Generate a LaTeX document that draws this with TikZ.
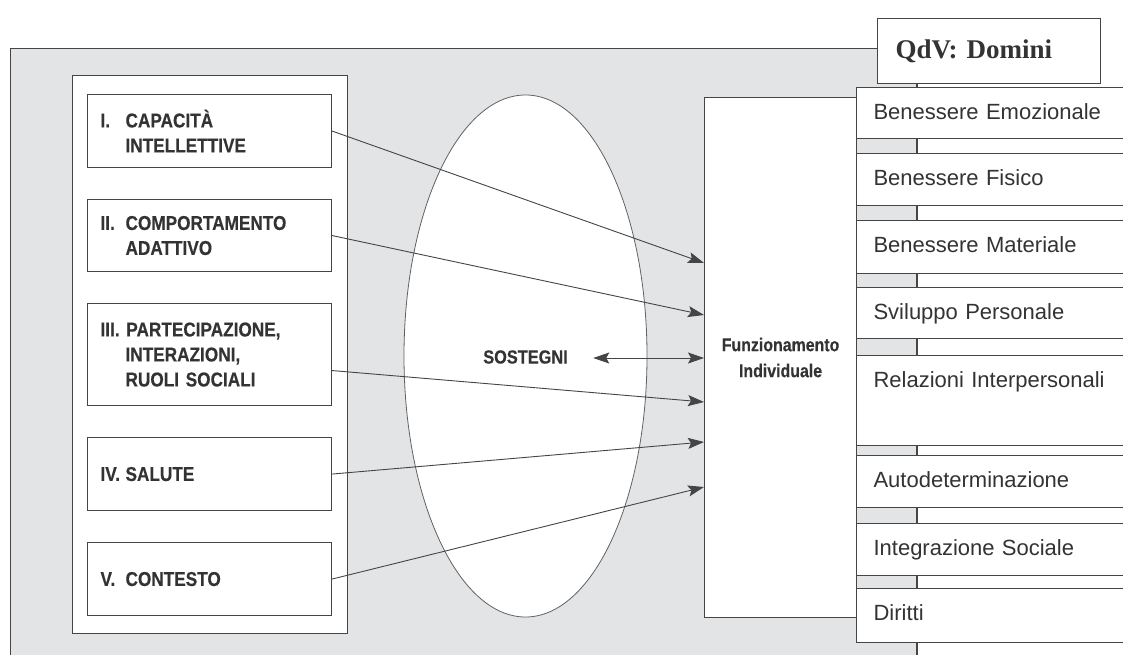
\documentclass[tikz,border=0pt]{standalone}
\usepackage{fontspec}
\setmainfont{Liberation Sans}
\newfontfamily\condfont[FakeStretch=0.86,FakeBold=0.35]{Liberation Sans}
\newfontfamily\qdvfont{Liberation Serif}
\usetikzlibrary{arrows.meta,calc,shapes.geometric}
\definecolor{panelgray}{HTML}{E2E4E6}
\definecolor{ink}{HTML}{333333}
\definecolor{edge}{HTML}{454545}
\begin{document}
\begin{tikzpicture}[x=1pt,y=-1pt,
  lbox/.style={draw=edge, line width=1.1pt, fill=white, anchor=north west,
    inner xsep=13pt, text width=218pt, align=left, text=ink,
    font=\condfont\bfseries\fontsize{20}{25}\selectfont},
  dbox/.style={draw=edge, line width=1.1pt, fill=white, anchor=north west,
    inner xsep=17pt, inner ysep=0pt, text width=270pt, align=left,
    text height=32pt, text=ink, font=\fontsize{22}{26}\selectfont},
  arr/.style={draw=edge, line width=0.9pt, -{Stealth[length=16pt,width=11pt,inset=3pt]}},
  dbl/.style={draw=edge, line width=0.9pt, {Stealth[length=16pt,width=11pt,inset=3pt]}-{Stealth[length=16pt,width=11pt,inset=3pt]}}
]
\useasboundingbox (0,0) rectangle (1123,655);
\clip (0,0) rectangle (1123,655);
\fill[white] (0,0) rectangle (1123,655);
% grey panel
\draw[edge, line width=1.2pt, fill=panelgray] (10.5,48.5) rectangle (917,690);
% left container
\node[draw=edge, line width=1.1pt, fill=white, anchor=north west,
      minimum width=275pt, minimum height=558pt] (cont) at (72,75) {};
% ellipse
\node[ellipse, draw=edge!85, line width=0.8pt, fill=white,
      minimum width=243pt, minimum height=522pt] (sost) at (525.5,356) {};
\node[text=ink, font=\condfont\bfseries\fontsize{19}{25}\selectfont] (sosttext) at (525.5,357) {SOSTEGNI};
% left boxes
\node[lbox, minimum height=73pt] (b1) at (87,94) {\makebox[25pt][l]{I.}CAPACITÀ\\\hspace*{25pt}INTELLETTIVE};
\node[lbox, minimum height=72pt] (b2) at (87,199) {\makebox[25pt][l]{II.}COMPORTAMENTO\\\hspace*{25pt}ADATTIVO};
\node[lbox, minimum height=102pt] (b3) at (87,303) {III. PARTECIPAZIONE,\\\hspace*{25pt}INTERAZIONI,\\\hspace*{25pt}RUOLI SOCIALI};
\node[lbox, minimum height=73pt] (b4) at (87,437) {\makebox[25pt][l]{IV.}SALUTE};
\node[lbox, minimum height=73pt] (b5) at (87,542) {\makebox[25pt][l]{V.}CONTESTO};
% central box
\node[draw=edge, line width=1.1pt, fill=white, anchor=north west,
      minimum width=152pt, minimum height=520pt, align=center, text=ink,
      font=\condfont\bfseries\fontsize{18.5}{26}\selectfont] (funz) at (704,97) {Funzionamento\\Individuale};
% arrows
\draw[arr] (b1.east) -- ($(funz.north west)+(0,166)$);
\draw[arr] (b2.east) -- ($(funz.north west)+(0,218)$);
\draw[arr] ($(b3.east)+(0,16)$) -- ($(funz.north west)+(0,305)$);
\draw[arr] (b4.east) -- ($(funz.north west)+(0,345)$);
\draw[arr] (b5.east) -- ($(funz.north west)+(0,390)$);
\draw[dbl] ($(sosttext.east)+(22,1)$) -- ($(funz.north west)+(0,261)$);
% domains
\node[dbox, text depth=19pt] (d1) at (856,87) {Benessere Emozionale};
\node[dbox, text depth=20pt] (d2) at (856,153) {Benessere Fisico};
\node[dbox, text depth=21pt] (d3) at (856,220) {Benessere Materiale};
\node[dbox, text depth=19pt] (d4) at (856,287) {Sviluppo Personale};
\node[dbox, text depth=58pt] (d5) at (856,355) {Relazioni Interpersonali};
\node[dbox, text depth=20pt] (d6) at (856,455) {Autodeterminazione};
\node[dbox, text depth=20pt] (d7) at (856,523) {Integrazione Sociale};
\node[dbox, text depth=22pt] (d8) at (856,588) {Diritti};
% title box
\node[draw=edge, line width=1.1pt, fill=white, anchor=north west,
      minimum height=65pt, inner xsep=18pt, text width=187pt, align=left, text=ink,
      font=\qdvfont\bfseries\fontsize{27}{30}\selectfont] (qdv) at (877,18) {QdV: Domini};
\end{tikzpicture}
\end{document}
